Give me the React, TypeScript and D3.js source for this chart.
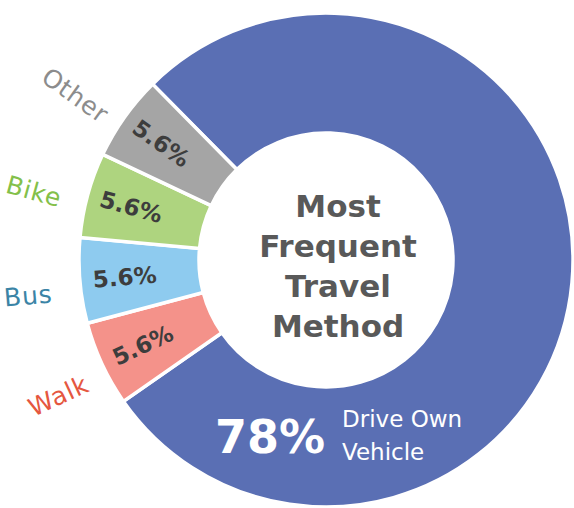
import React from 'react';
import * as d3 from 'd3';

const categories = ['Drive Own Vehicle', 'Walk', 'Bus', 'Bike', 'Other'];
const shortLabels = ['', 'Walk', 'Bus', 'Bike', 'Other'];
const values = [78, 5.6, 5.6, 5.6, 5.6];
const percentLabels = ['78%', '5.6%', '5.6%', '5.6%', '5.6%'];
const centerTitle = ['Most', 'Frequent', 'Travel', 'Method'];

const fills = ['#5a6fb4', '#f4928a', '#8ecbef', '#aed47f', '#a5a5a5'];
const labelColors = ['#ffffff', '#e5573f', '#3b84a6', '#83c04a', '#8c8c8c'];

const width = 574, height = 508;
const cx = 326, cy = 260;
const outerR = 247, innerR = 127;
const font = '"DejaVu Sans", sans-serif';

export default function App() {
  const start = (-44.6 * Math.PI) / 180;
  const pie = d3.pie<number>().sort(null).startAngle(start).endAngle(start + 2 * Math.PI);
  const arcs = pie(values);
  const arc = d3.arc<d3.PieArcDatum<number>>().innerRadius(innerR).outerRadius(outerR);
  const mid = (d: d3.PieArcDatum<number>) => (d.startAngle + d.endAngle) / 2;
  const pos = (a: number, r: number) => [Math.sin(a) * r, -Math.cos(a) * r];
  const rot = (a: number) => (a * 180) / Math.PI - 270;
  const nudge = (-2 * Math.PI) / 180;

  return (
    <svg width={width} height={height} style={{ position: 'absolute', left: 0, top: 0, background: '#fff' }}>
      <g transform={`translate(${cx},${cy})`}>
        {arcs.map((d, i) => (
          <path key={categories[i]} d={arc(d) || ''} fill={fills[i]} stroke="#fff" strokeWidth={3.5} />
        ))}
        {arcs.slice(1).map((d, j) => {
          const i = j + 1;
          const a = mid(d);
          const [px, py] = pos(a, 202);
          const [lx, ly] = pos(a + nudge, 300);
          return (
            <g key={'lab' + i}>
              <text transform={`translate(${px},${py}) rotate(${rot(a)})`} textAnchor="middle" dy="0.36em"
                fontFamily={font} fontWeight="bold" fontSize={23} fill="#3d3d3d">{percentLabels[i]}</text>
              <text transform={`translate(${lx},${ly}) rotate(${rot(a)})`} textAnchor="middle" dy="0.36em"
                fontFamily={font} fontSize={25} letterSpacing={0.8} fill={labelColors[i]}>{shortLabels[i]}</text>
            </g>
          );
        })}
      </g>
      {centerTitle.map((t, i) => (
        <text key={t} x={338} y={217 + i * 40} textAnchor="middle" fontFamily={font} fontWeight="bold"
          fontSize={31} fill="#595959">{t}</text>
      ))}
      <text x={215} y={453} fontFamily={font} fontWeight="bold" fontSize={46} fill="#fff">{percentLabels[0]}</text>
      <text x={342} y={427} fontFamily={font} fontSize={23} fill="#fff">Drive Own</text>
      <text x={342} y={460} fontFamily={font} fontSize={23} fill="#fff">Vehicle</text>
    </svg>
  );
}
